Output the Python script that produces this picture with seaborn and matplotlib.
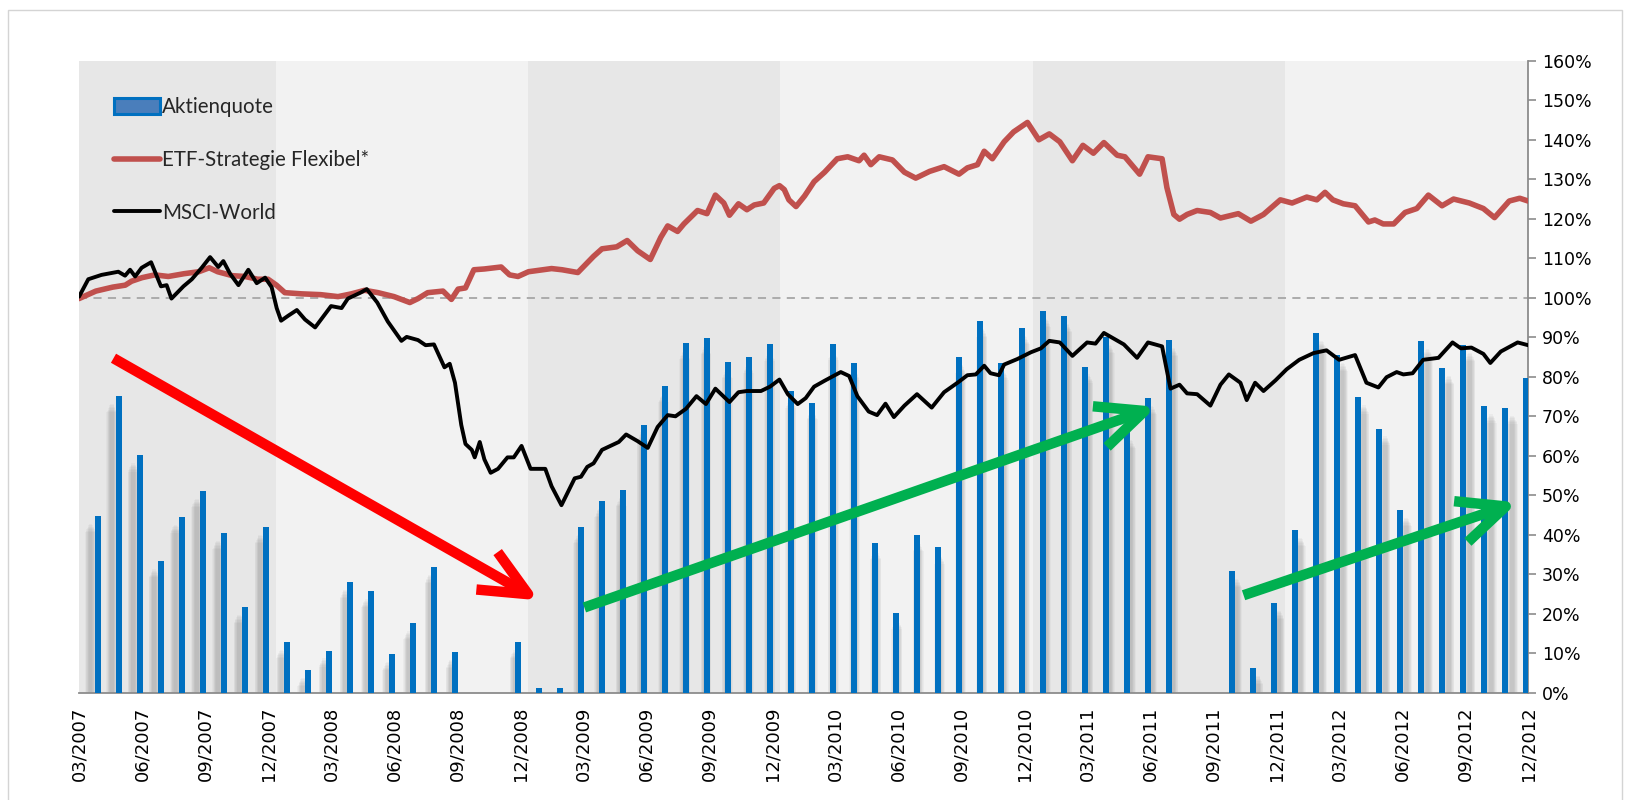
import numpy as np
import pandas as pd
import matplotlib
matplotlib.use("Agg")
import matplotlib.pyplot as plt
import seaborn as sns
from matplotlib.patches import Patch, Rectangle
from matplotlib.lines import Line2D

# ---------------------------------------------------------------- data
# x axis: months since 03/2007 (0 = 03/2007, 69 = 12/2012)
tick_labels = [
    "03/2007", "06/2007", "09/2007", "12/2007",
    "03/2008", "06/2008", "09/2008", "12/2008",
    "03/2009", "06/2009", "09/2009", "12/2009",
    "03/2010", "06/2010", "09/2010", "12/2010",
    "03/2011", "06/2011", "09/2011", "12/2011",
    "03/2012", "06/2012", "09/2012", "12/2012",
]

# equity quota at each month end, 03/2007 ... 11/2012 (percent)
quote_months = pd.period_range("2007-03", "2012-11", freq="M").strftime("%m/%Y").tolist()
aktienquote = [
    44.8, 75.1, 60.1, 33.3, 44.6, 51.1, 40.5, 21.8, 42.0, 12.9,
    5.8, 10.7, 28.1, 25.7, 9.8, 17.6, 31.9, 10.4, 0.0, 0.0,
    12.8, 1.2, 1.3, 42.0, 48.6, 51.3, 67.9, 77.6, 88.6, 89.8,
    83.8, 85.1, 88.2, 76.3, 73.4, 88.4, 83.4, 38.0, 20.3, 39.9,
    36.8, 85.1, 94.2, 83.4, 92.3, 96.7, 95.4, 82.6, 90.1, 66.0,
    74.6, 89.3, 0.0, 0.0, 30.8, 6.3, 22.8, 41.2, 91.1, 85.5,
    74.8, 66.9, 46.3, 89.1, 82.2, 88.0, 72.5, 72.2, 79.7,
]

etf_t = [0, 0.8, 1.6, 2.2, 2.5, 3.0, 3.6, 4.25, 5.0, 5.7, 6.2, 6.6, 7.3, 7.9, 8.5, 9.0,
         9.4, 9.8, 10.6, 11.5, 12.33, 12.97, 13.6, 14.24, 15.0, 15.75, 16.14, 16.6,
         17.33, 17.73, 18.05, 18.4, 18.8, 19.3, 20.1, 20.5, 20.9, 21.4, 22.5, 23.0,
         23.75, 24.5, 24.9, 25.6, 26.1, 26.6, 27.2, 27.7, 28.03, 28.5, 28.8, 29.45,
         29.9, 30.3, 30.7, 30.97, 31.4, 31.8, 32.15, 32.6, 33.1, 33.35, 33.58, 33.8,
         34.14, 34.55, 35.0, 35.5, 36.1, 36.6, 37.14, 37.38, 37.7, 38.1, 38.73, 39.3,
         39.84, 40.5, 41.19, 41.9, 42.3, 42.78, 43.1, 43.49, 44.05, 44.5, 45.16, 45.7,
         46.2, 46.7, 47.3, 47.8, 48.3, 48.8, 49.43, 49.8, 50.5, 50.9, 51.57, 51.8,
         52.13, 52.4, 52.76, 53.24, 53.87, 54.35, 55.2, 55.8, 56.4, 57.2, 57.76,
         58.46, 58.94, 59.33, 59.7, 60.2, 60.76, 61.4, 61.7, 62.1, 62.6, 63.14, 63.7,
         64.25, 64.9, 65.45, 66.2, 66.87, 67.4, 68.1, 68.6, 69.0]
etf_v = [99.8, 101.7, 102.7, 103.2, 104.2, 105.1, 105.8, 105.4, 106.1, 106.6, 107.6, 106.6,
         105.6, 105.4, 104.7, 104.7, 103.2, 101.3, 101.0, 100.8, 100.3, 101.0, 101.9,
         101.3, 100.3, 98.8, 99.8, 101.3, 101.7, 99.6, 102.2, 102.5, 107.1, 107.3,
         107.8, 105.8, 105.4, 106.6, 107.4, 107.1, 106.4, 110.5, 112.4, 112.9, 114.5,
         111.9, 109.7, 115.3, 118.2, 116.8, 118.7, 122.1, 121.3, 126.0, 124.0, 120.9,
         123.8, 122.3, 123.5, 124.0, 127.7, 128.4, 127.4, 124.8, 123.1, 125.8, 129.4,
         131.8, 135.2, 135.7, 134.7, 136.1, 133.7, 135.7, 134.9, 131.8, 130.3, 132.0,
         133.2, 131.3, 132.9, 133.7, 137.1, 135.2, 139.5, 142.0, 144.4, 140.0, 141.5,
         139.5, 134.7, 138.6, 136.6, 139.3, 136.1, 135.7, 131.3, 135.7, 135.2, 127.9,
         121.1, 119.9, 121.1, 122.1, 121.6, 120.2, 121.3, 119.4, 121.1, 124.8, 124.0,
         125.5, 124.8, 126.7, 124.8, 123.8, 123.3, 119.2, 119.7, 118.7, 118.7, 121.6,
         122.6, 126.0, 123.3, 125.0, 124.0, 122.6, 120.3, 124.5, 125.2, 124.5]

msci_t = [0, 0.44, 1.07, 1.87, 2.19, 2.43, 2.67, 2.98, 3.43, 3.9, 4.17, 4.4, 4.97, 5.37,
          5.84, 6.24, 6.63, 6.87, 7.19, 7.59, 8.06, 8.46, 8.86, 9.17, 9.41, 9.62, 9.97,
          10.37, 10.76, 11.24, 12.0, 12.5, 12.8, 13.4, 13.7, 14.2, 14.7, 15.35, 15.6,
          16.14, 16.5, 16.9, 17.4, 17.65, 17.9, 18.2, 18.4, 18.7, 18.84, 19.08, 19.3,
          19.6, 19.95, 20.4, 20.7, 21.07, 21.5, 22.2, 22.5, 22.97, 23.6, 23.9, 24.2,
          24.5, 24.9, 25.3, 25.7, 26.05, 26.6, 27.08, 27.55, 28.03, 28.4, 28.9, 29.4,
          29.85, 30.3, 30.97, 31.4, 31.8, 32.47, 32.9, 33.35, 33.75, 34.22, 34.6, 35.0,
          35.5, 36.27, 36.67, 37.06, 37.6, 38.0, 38.4, 38.8, 39.3, 39.9, 40.6, 41.19,
          41.83, 42.3, 42.7, 43.1, 43.4, 43.8, 44.05, 44.68, 45.32, 45.8, 46.2, 46.7,
          47.3, 48.0, 48.4, 48.8, 49.75, 50.38, 50.9, 51.57, 51.97, 52.4, 52.76, 53.24,
          53.87, 54.35, 54.75, 55.3, 55.6, 56.0, 56.4, 56.97, 57.5, 58.1, 58.78, 59.4,
          60.0, 60.76, 61.3, 61.87, 62.26, 62.74, 63.06, 63.5, 64.0, 64.73, 65.4, 65.8,
          66.3, 66.87, 67.2, 67.7, 68.5, 69.0]
msci_v = [100.3, 104.7, 105.8, 106.6, 105.6, 107.1, 105.4, 107.6, 109.0, 102.9, 103.2,
          99.8, 102.9, 104.7, 107.6, 110.3, 107.8, 109.3, 106.1, 103.2, 107.1, 103.7,
          105.1, 102.7, 97.4, 94.2, 95.5, 96.9, 94.5, 92.5, 97.9, 97.4, 99.8, 101.3,
          102.2, 98.8, 94.0, 89.1, 90.1, 89.3, 88.0, 88.2, 82.4, 83.3, 78.5, 67.8, 63.0,
          61.5, 59.6, 63.5, 59.1, 55.7, 56.7, 59.6, 59.6, 62.5, 56.7, 56.7, 52.3, 47.5,
          54.3, 54.7, 57.2, 58.1, 61.5, 62.5, 63.5, 65.4, 63.7, 62.0, 67.3, 70.3, 70.0,
          71.9, 75.1, 73.1, 77.0, 73.6, 76.1, 76.4, 76.4, 77.5, 79.3, 75.6, 73.1, 74.6,
          77.5, 79.0, 81.2, 80.2, 75.1, 71.2, 70.3, 73.2, 69.8, 72.7, 75.6, 72.2, 76.1,
          78.5, 80.4, 80.6, 82.8, 80.9, 80.4, 83.1, 84.5, 86.2, 87.2, 89.1, 88.7, 85.3,
          88.7, 88.4, 91.1, 88.2, 84.8, 88.7, 87.7, 77.0, 78.0, 75.8, 75.6, 72.7, 78.0,
          80.6, 78.5, 74.1, 78.5, 76.4, 79.1, 81.9, 84.3, 86.0, 86.7, 84.3, 85.5, 78.5,
          77.3, 79.9, 81.2, 80.6, 80.9, 84.3, 84.8, 88.7, 87.2, 87.4, 85.8, 83.5, 86.4,
          88.7, 88.0]

# ---------------------------------------------------------------- style
sns.set_theme(style="white")
plt.rcParams["font.family"] = ["DejaVu Sans"]

BLUE = "#0070C0"
RED_LINE = "#C0504D"
ARROW_RED = "#FF0000"
ARROW_GREEN = "#00B050"

fig = plt.figure(figsize=(16.3, 8.0), dpi=100)
fig.patch.set_facecolor("white")
ax = fig.add_axes([0.0485, 0.134, 0.889, 0.790])
ax.set_facecolor("#F2F2F2")

# yearly background bands
for start, end in ((0.0, 9.4), (21.4, 33.4), (45.4, 57.4)):
    ax.axvspan(start, end, color="#E7E7E7", lw=0, zorder=0)

# bar positions: month end of each month
bar_pos = np.arange(1, len(aktienquote) + 1) - 0.1
quote = np.array(aktienquote)

# soft perspective shadow behind each bar (stacked translucent layers = blur)
centre = 34.5
shift = 0.36 * (bar_pos - centre) / centre
for j, w in enumerate(np.linspace(0.52, 0.18, 7)):
    h = np.clip(quote - 2.0 - 0.35 * (6 - j), 0, None)
    ax.bar(bar_pos + shift, h, width=w, color="#707070", alpha=0.055,
           lw=0, zorder=1)

df_q = pd.DataFrame({"pos": bar_pos, "Aktienquote": quote, "Monat": quote_months})
sns.barplot(data=df_q, x="pos", y="Aktienquote", native_scale=True, width=0.25,
            color=BLUE, saturation=1, errorbar=None, ax=ax, zorder=3, lw=0)

ax.axhline(100, color="#A6A6A6", lw=1.3, ls=(0, (4.5, 3.5)), zorder=2)

sns.lineplot(x=etf_t, y=etf_v, sort=False, estimator=None, color=RED_LINE,
             lw=4.0, ax=ax, zorder=5, solid_capstyle="round", solid_joinstyle="round")
sns.lineplot(x=msci_t, y=msci_v, sort=False, estimator=None, color="black",
             lw=2.8, ax=ax, zorder=6, solid_capstyle="round", solid_joinstyle="round")

# trend arrows
arrows = [
    ((1.64, 84.7), (21.9, 23.4), ARROW_RED),
    ((24.06, 21.6), (51.3, 72.4), ARROW_GREEN),
    ((55.45, 24.7), (68.5, 48.2), ARROW_GREEN),
]
for (x0, y0), (x1, y1), col in arrows:
    ax.annotate("", xy=(x1, y1), xytext=(x0, y0),
                arrowprops=dict(arrowstyle="->,head_length=3.4,head_width=1.55",
                                color=col, lw=7.5, mutation_scale=10,
                                shrinkA=0, shrinkB=0, joinstyle="round",
                                capstyle="butt"),
                zorder=8)

# axes
ax.set_xlim(0, 69)
ax.set_ylim(0, 160)
ax.set_xlabel("")
ax.set_ylabel("")
ax.set_xticks(np.arange(0, 70, 3))
ax.set_xticklabels(tick_labels, rotation=90, fontsize=13)
ax.set_yticks(np.arange(0, 161, 10))
ax.set_yticklabels([f"{v}%" for v in range(0, 161, 10)], fontsize=12.5)
ax.yaxis.tick_right()
ax.tick_params(axis="both", direction="out", length=6, width=1.2, color="#8C8C8C",
               labelcolor="black", pad=4)
for side in ("left", "top"):
    ax.spines[side].set_visible(False)
for side in ("right", "bottom"):
    ax.spines[side].set_color("#8C8C8C")
    ax.spines[side].set_linewidth(1.3)
ax.grid(False)

# legend
handles = [
    Patch(facecolor="#4A7EBB", edgecolor=BLUE, lw=2.2),
    Line2D([], [], color=RED_LINE, lw=4.0, solid_capstyle="round"),
    Line2D([], [], color="black", lw=2.8, solid_capstyle="round"),
]
labels = ["Aktienquote", "ETF-Strategie Flexibel*", "MSCI-World"]
leg = ax.legend(handles, labels, loc="upper left", bbox_to_anchor=(0.014, 0.965),
                frameon=False, handlelength=2.25, handleheight=0.85,
                handletextpad=0.1, labelspacing=1.6, borderaxespad=0.3,
                prop={"family": "Lato", "size": 14.8})
leg.set_zorder(9)

# outer frame
fig.add_artist(Rectangle((0.005, -0.02), 0.99, 1.008, transform=fig.transFigure,
                         fill=False, edgecolor="#D4D4D4", lw=1.0))

fig.savefig("out.png", dpi=100)
